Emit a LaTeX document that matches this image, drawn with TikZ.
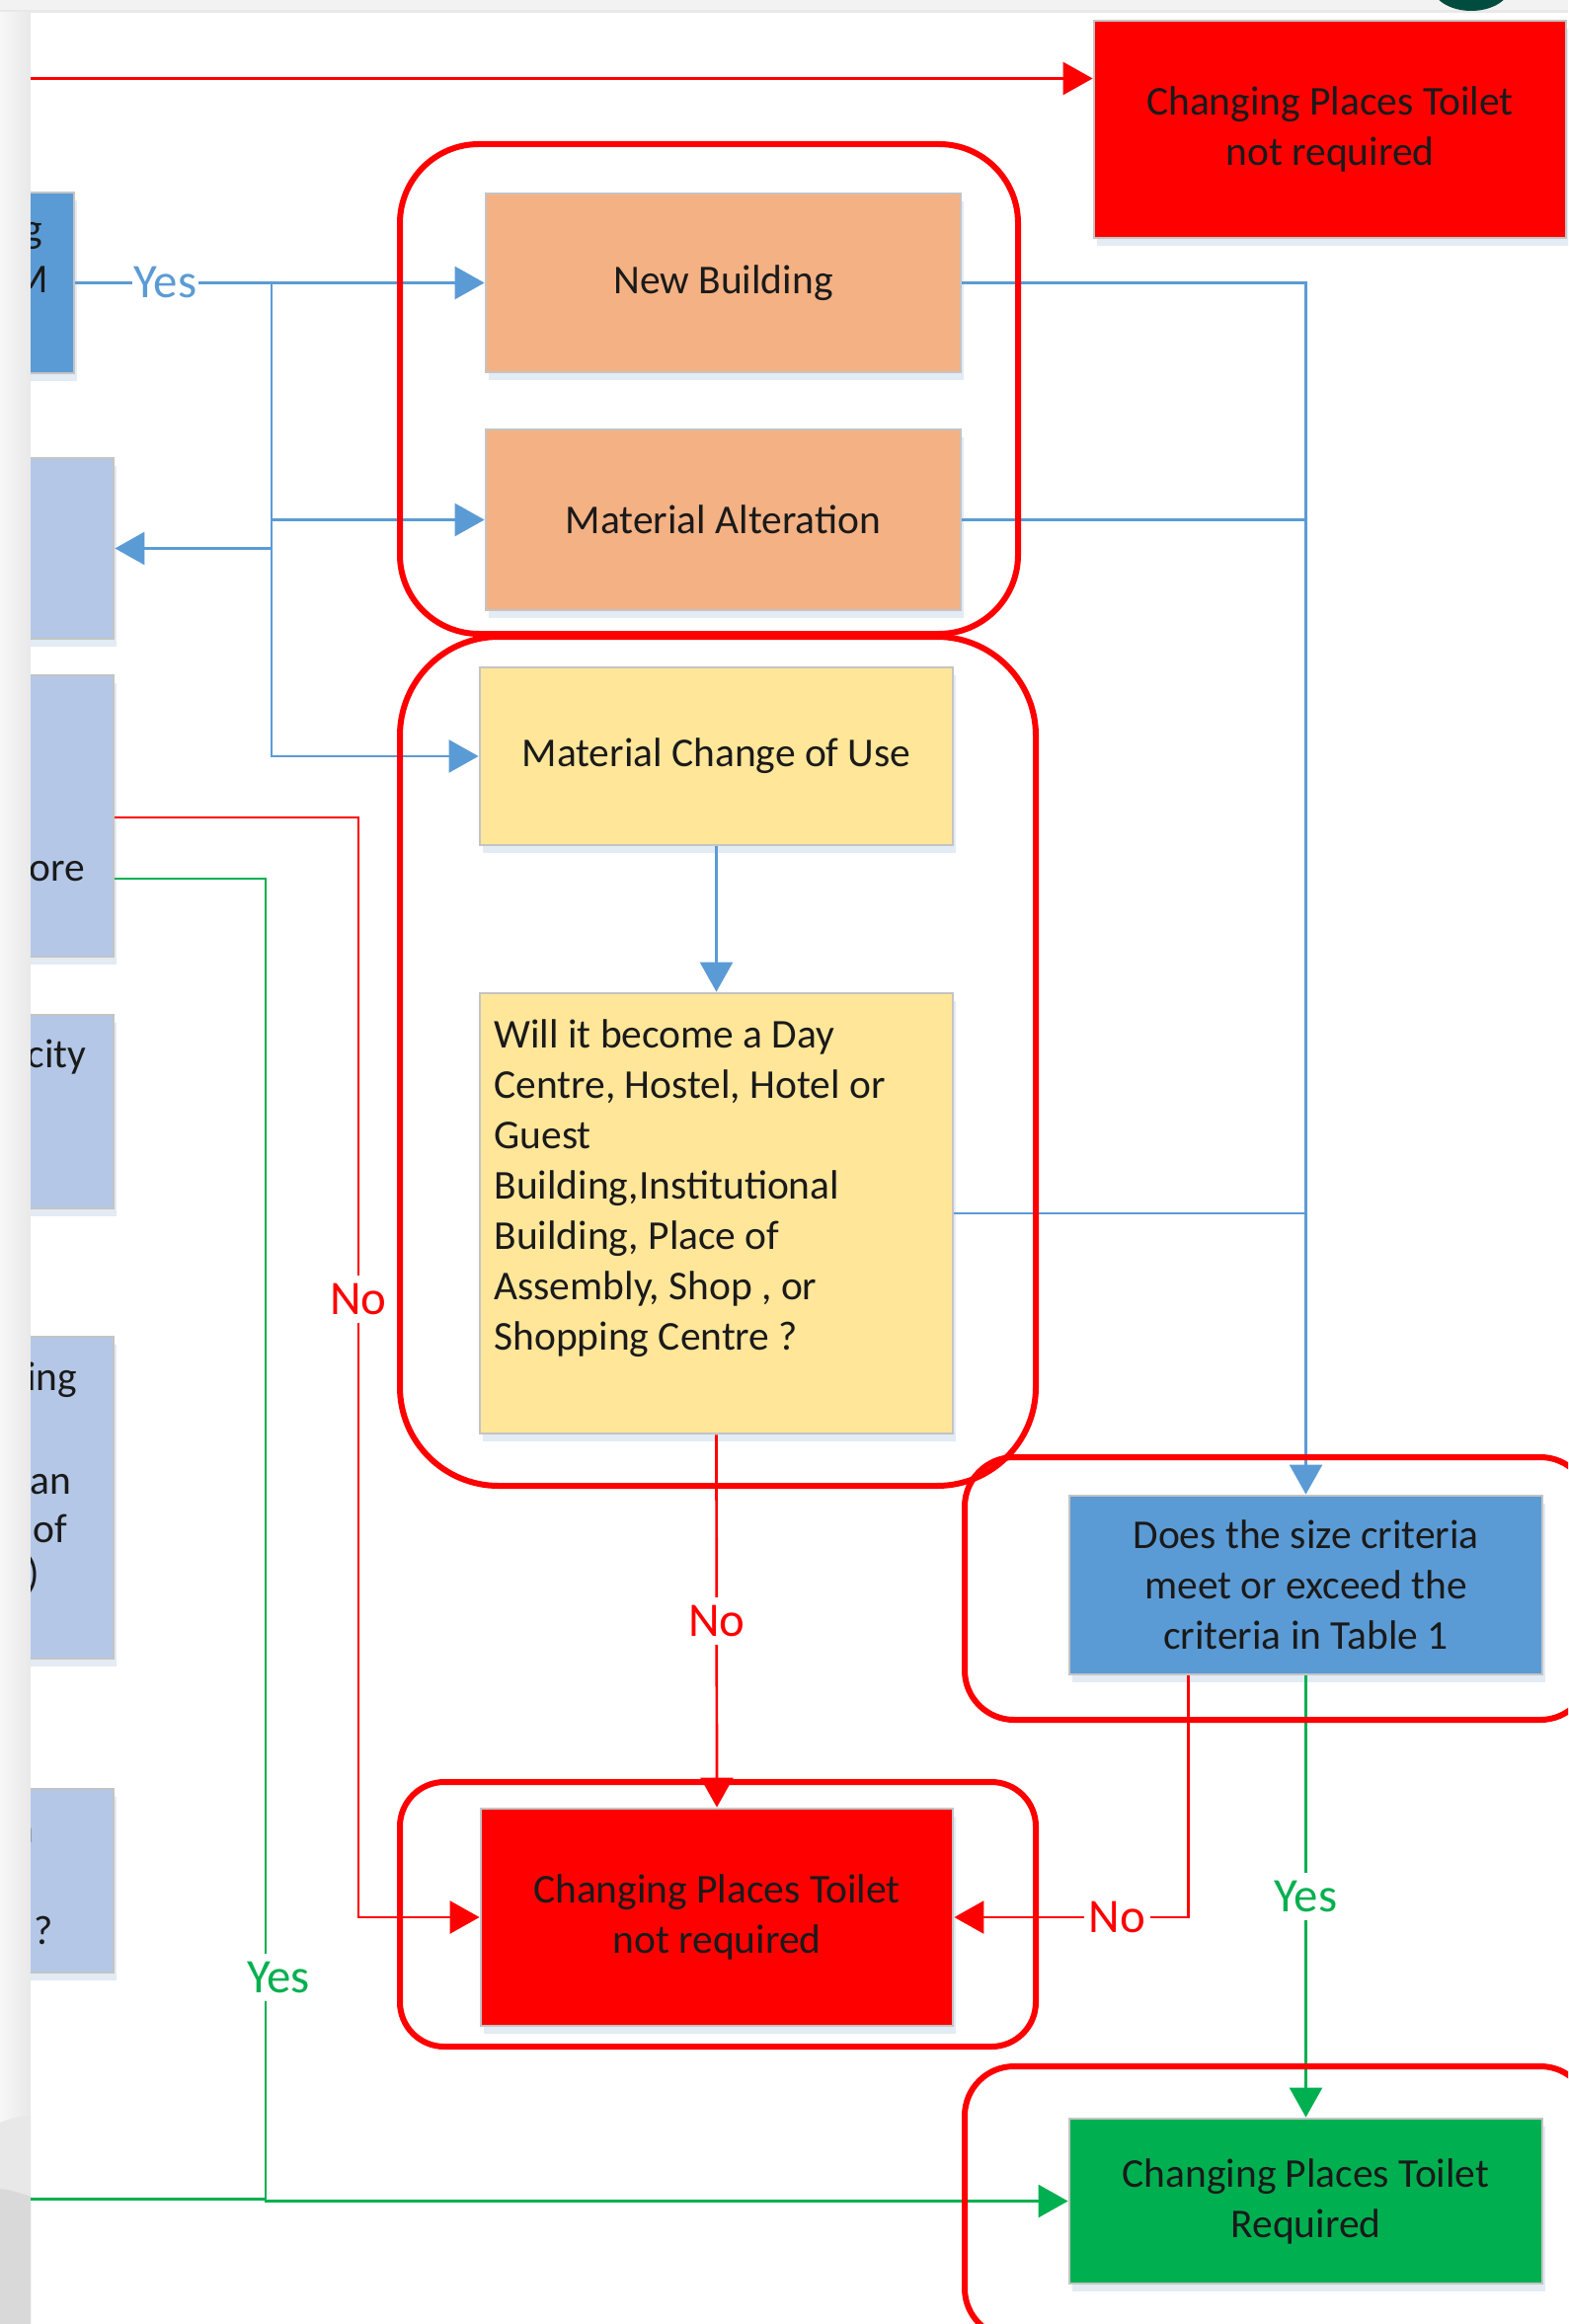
\documentclass[tikz,border=0pt]{standalone}
\usepackage{fontspec}
\setmainfont{Carlito}
\usetikzlibrary{arrows.meta,calc,shadows}

\definecolor{cpRed}{HTML}{FF0000}
\definecolor{cpOrange}{HTML}{F4B183}
\definecolor{cpYellow}{HTML}{FFE699}
\definecolor{cpBlue}{HTML}{5B9BD5}
\definecolor{cpPale}{HTML}{B4C7E7}
\definecolor{cpGreen}{HTML}{00B050}
\definecolor{cpBorder}{HTML}{C4C4C4}
\definecolor{cpShadow}{HTML}{DCE6F2}
\definecolor{cpTeal}{HTML}{004D40}
\definecolor{cpText}{HTML}{1A1A1A}
\definecolor{cpPage}{HTML}{F2F2F2}

\newcommand\boxfont{\fontsize{11.8}{14.5}\selectfont}
\newcommand\lblfont{\fontsize{13.9}{16}\selectfont}

\begin{document}
\begin{tikzpicture}[x=0.1mm, y=-0.1mm,
  box/.style={draw=cpBorder, line width=0.28mm, inner sep=0pt, align=center,
    font=\boxfont, text=cpText,
    drop shadow={shadow xshift=0.3mm, shadow yshift=-0.8mm, fill=cpShadow, opacity=0.8}},
  grp/.style={draw=cpRed, line width=0.6mm, rounded corners=#1},
  conn/.style={line width=0.27mm},
  bl/.style={conn, draw=cpBlue},
  rd/.style={conn, draw=cpRed},
  gr/.style={conn, draw=cpGreen},
  tip/.style={-{Triangle[length=3mm,width=3.3mm]}},
  lbl/.style={font=\lblfont, fill=white, inner xsep=0.5mm, inner ysep=0.8mm},
  frag/.style={anchor=base east, inner sep=0pt, font=\boxfont, text=cpText}
]
\useasboundingbox (0,0) rectangle (1588,2354);
\clip (0,0) rectangle (1588,2354);

% page, its margin and the window edge
\fill[cpPage] (0,0) rectangle (1588,2354);
\fill[black!9] (0,10) rectangle (1588,13);
\fill[white] (31,13) rectangle (1588,2354);
\shade[left color=black!3, right color=black!9] (0,13) rectangle (31,2354);
\fill[black!9] (0,2150) .. controls (10,2146) and (20,2143) .. (31,2143) -- (31,2354) -- (0,2354) -- cycle;
\fill[black!15] (0,2217) .. controls (10,2218) and (20,2221) .. (31,2225) -- (31,2354) -- (0,2354) -- cycle;
\fill[cpTeal] (1490,-15) ellipse [x radius=4mm, y radius=2.6mm];

% boxes of the left column, cut by the page edge
\begin{scope}
\clip (31,13) rectangle (1588,2354);
\node[box, fill=cpBlue, minimum width=13.5mm, minimum height=18.3mm] (A) at (7.5,286.5) {};
\node[box, fill=cpPale, minimum width=17.5mm, minimum height=18.3mm] (B) at (27.5,555.5) {};
\node[box, fill=cpPale, minimum width=17.5mm, minimum height=28.5mm] (C) at (27.5,826.5) {};
\node[box, fill=cpPale, minimum width=17.5mm, minimum height=19.6mm] (D) at (27.5,1126) {};
\node[box, fill=cpPale, minimum width=17.5mm, minimum height=32.6mm] (E) at (27.5,1517) {};
\node[box, fill=cpPale, minimum width=17.5mm, minimum height=18.6mm] (F) at (27.5,1905) {};
\node[frag] (tA1) at (44,246) {g};
\node[frag] (tA2) at (50,297) {M};
\node[frag] (tC1) at (87,892) {ore};
\node[frag] (tD1) at (88,1081) {city};
\node[frag] (tE1) at (79,1408) {ing};
\node[frag] (tE2) at (35,1445) {.};
\node[frag] (tE3) at (73,1513) {an};
\node[frag] (tE4) at (69,1562) {of};
\node[frag] (tE5) at (41,1607) {)};
\node[frag] (tF1) at (34.5,1866) {n};
\node[frag] (tF2) at (54,1969) {?};
\end{scope}

% main boxes
\node[box, fill=cpRed, minimum width=47.8mm, minimum height=22mm] (NR1) at (1347,131)
  {Changing Places Toilet\\not required};
\node[box, fill=cpOrange, minimum width=48.1mm, minimum height=18.1mm] (NB) at (732.5,286.5)
  {New Building};
\node[box, fill=cpOrange, minimum width=48.1mm, minimum height=18.3mm] (MA) at (732.5,526.5)
  {Material Alteration};
\node[box, fill=cpYellow, minimum width=47.9mm, minimum height=18mm] (MCU) at (725.5,766)
  {Material Change of Use};
\node[box, fill=cpYellow, minimum width=47.9mm, minimum height=44.6mm] (WILL) at (725.5,1229)
  {\parbox[c][39.2mm][t]{45mm}{\boxfont\raggedright Will it become a Day\\
   Centre, Hostel, Hotel or\\ Guest\\ Building,Institutional\\ Building, Place of\\
   Assembly, Shop , or\\ Shopping Centre ?}};
\node[box, fill=cpRed, minimum width=47.8mm, minimum height=22mm] (NR2) at (726,1942)
  {Changing Places Toilet\\not required};
\node[box, fill=cpBlue, minimum width=47.9mm, minimum height=18.1mm] (DQ) at (1322.5,1605.5)
  {Does the size criteria\\meet or exceed the\\criteria in Table 1};
\node[box, fill=cpGreen, minimum width=47.9mm, minimum height=16.7mm] (REQ) at (1322.5,2229.5)
  {Changing Places Toilet\\Required};

% connectors
\coordinate (rEdge) at (31,79.5);
\draw[rd, tip] (rEdge) -- (rEdge -| NR1.west);

\draw[bl, tip] (A.east) -- node[lbl, text=cpBlue, inner xsep=0.2mm, pos=0.22] {Yes} (NB.west);
\coordinate (trunk) at (275,286.5);
\draw[bl, tip] (trunk) |- (MA.west);
\draw[bl, tip] (trunk) |- (MCU.west);
\draw[bl, tip] (trunk |- B.east) -- (B.east);

\draw[bl, tip] (NB.east) -| (DQ.north);
\draw[bl] (MA.east) -- (MA.east -| DQ.north);
\draw[bl] (WILL.east) -- (WILL.east -| DQ.north);

\draw[bl, tip] (MCU.south) -- (WILL.north);
\draw[rd, tip] (WILL.south) -- node[lbl, text=cpRed] {No} (NR2.north);

\draw[rd, tip] ($(DQ.south west)+(122,0)$) |- node[lbl, text=cpRed, pos=0.652] {No} (NR2.east);
\draw[gr, tip] (DQ.south) -- node[lbl, text=cpGreen] {Yes} (REQ.north);

\draw[rd, tip] ($(C.east)+(0,1.5)$) -| (363,1316) node[lbl, text=cpRed] {No} |- (NR2.west);
\draw[gr, tip] ($(C.east)+(0,63.5)$) -| (269,2003)
  node[lbl, text=cpGreen, xshift=1.3mm] {Yes} |- (REQ.west);
\coordinate (gEdge) at (31,2227.5);
\draw[gr] (gEdge) -- (269,2227.5);

% red grouping frames
\draw[grp=8mm] (405,146) rectangle (1031,642);
\draw[grp=10mm] (405,645) rectangle (1049,1505);
\draw[grp=4.5mm] (405,1805) rectangle (1049,2073);
\draw[grp=5mm] (977,1476) rectangle (1610,1742);
\draw[grp=5mm] (977,2093) rectangle (1610,2368);
\end{tikzpicture}
\end{document}
